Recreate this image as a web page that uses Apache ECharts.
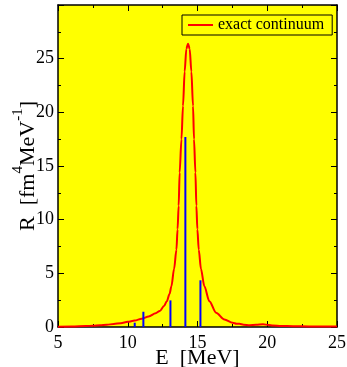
<!DOCTYPE html>
<html>
<head>
<meta charset="utf-8">
<script src="https://cdn.jsdelivr.net/npm/echarts@6/dist/echarts.min.js"></script>
<style>
html,body{margin:0;padding:0;background:#fff;}
#c{width:347px;height:367px;}
</style>
</head>
<body>
<div id="c"></div>
<script>
// continuum curve
var curveE = [5.0, 6.0, 7.0, 7.5, 8.0, 8.5, 9.0, 9.5, 10.0, 10.5, 11.0, 11.5, 12.0, 12.3, 12.6, 12.8, 13.0, 13.13, 13.32, 13.49, 13.57, 13.65, 13.72, 13.85, 13.96, 14.08, 14.2, 14.32, 14.44, 14.56, 14.68, 14.75, 14.85, 14.92, 14.99, 15.09, 15.25, 15.49, 15.85, 16.33, 16.93, 17.52, 17.8, 18.0, 18.3, 18.74, 19.2, 19.7, 20.1, 20.4, 21.0, 21.85, 23.0, 25.0];
var curveR = [0.03, 0.05, 0.09, 0.12, 0.16, 0.21, 0.28, 0.36, 0.48, 0.6, 0.78, 0.98, 1.28, 1.5, 1.95, 2.4, 3.1, 3.8, 5.4, 7.2, 9.1, 11.3, 14.4, 17.5, 20.6, 23.8, 25.9, 26.4, 25.9, 23.8, 20.6, 17.5, 14.4, 11.3, 9.1, 7.2, 5.4, 3.8, 2.4, 1.33, 0.7, 0.39, 0.3, 0.3, 0.22, 0.17, 0.2, 0.26, 0.18, 0.14, 0.1, 0.07, 0.05, 0.04];
// discrete strengths (blue sticks)
var stickE = [10.5, 11.12, 13.06, 14.13, 15.21];
var stickR = [0.4, 1.42, 2.48, 17.7, 4.35];
var xTicks = {min: 5, max: 25, interval: 5};
var yTicks = {min: 0, max: 30, interval: 5};
var seriesName = 'exact continuum';

var curveData = curveE.map(function(e, i){ return [e, curveR[i]]; });
var stickData = stickE.map(function(e, i){ return [e, stickR[i]]; });

var font = 'Liberation Serif';
function mkX(pos, labels) {
  return {
    type: 'value', position: pos, min: xTicks.min, max: xTicks.max, interval: xTicks.interval,
    axisLine: {show: true, onZero: false, lineStyle: {color: '#000', width: 1.5}},
    axisTick: {show: true, inside: true, length: 6, lineStyle: {color: '#000', width: 1}},
    minorTick: {show: true, splitNumber: 2, length: 3, lineStyle: {color: '#000', width: 1}},
    splitLine: {show: false}, minorSplitLine: {show: false},
    axisLabel: {show: labels, color: '#000', fontFamily: font, fontSize: 18, margin: 7},
    name: labels ? 'E  [MeV]' : '', nameLocation: 'middle', nameGap: 20, nameMoveOverlap: false,
    nameTextStyle: {color: '#000', fontFamily: font, fontSize: 22}
  };
}
function mkY(pos, labels) {
  return {
    type: 'value', position: pos, min: yTicks.min, max: yTicks.max, interval: yTicks.interval,
    axisLine: {show: true, onZero: false, lineStyle: {color: '#000', width: 1.5}},
    axisTick: {show: true, inside: true, length: 6, lineStyle: {color: '#000', width: 1}},
    minorTick: {show: true, splitNumber: 2, length: 3, lineStyle: {color: '#000', width: 1}},
    splitLine: {show: false}, minorSplitLine: {show: false},
    axisLabel: {show: labels, color: '#000', fontFamily: font, fontSize: 18, margin: 4, showMaxLabel: false},
    name: labels ? '{a|R  [fm}{s|4}{a|MeV}{s|-1}{a|]}' : '', nameLocation: 'middle', nameGap: 19, nameRotate: 90,
    nameMoveOverlap: false,
    nameTextStyle: {
      color: '#000', fontFamily: font, fontSize: 22,
      rich: {
        a: {fontFamily: font, fontSize: 22, color: '#000', lineHeight: 28, verticalAlign: 'bottom'},
        s: {fontFamily: font, fontSize: 15, color: '#000', lineHeight: 28, verticalAlign: 'top'}
      }
    }
  };
}

var chart = echarts.init(document.getElementById('c'), null, {renderer: 'canvas'});
chart.setOption({
  animation: false,
  backgroundColor: '#fff',
  grid: {left: 58, right: 10, top: 5, bottom: 40, show: true, backgroundColor: '#ffff00', borderWidth: 0,
         containLabel: false, outerBoundsMode: 'none'},
  xAxis: [mkX('bottom', true), mkX('top', false)],
  yAxis: [mkY('left', true), mkY('right', false)],
  legend: {
    data: [{name: seriesName, icon: 'rect'}], left: 182, top: 15, orient: 'horizontal',
    backgroundColor: '#ffff00', borderColor: '#000', borderWidth: 1, padding: [2, 8, 2, 6],
    itemWidth: 25, itemHeight: 2, itemGap: 5,
    textStyle: {color: '#000', fontFamily: font, fontSize: 16}
  },
  series: [
    {
      name: seriesName, type: 'line', data: curveData, xAxisIndex: 0, yAxisIndex: 0,
      symbol: 'none', smooth: 0.3, smoothMonotone: 'x',
      lineStyle: {color: '#ff0000', width: 2}, itemStyle: {color: '#ff0000'}, z: 2
    },
    {
      name: 'sticks', type: 'bar', data: stickData, xAxisIndex: 0, yAxisIndex: 0,
      barWidth: 2, itemStyle: {color: '#0000ff'}, z: 3
    }
  ]
});
</script>
</body>
</html>
